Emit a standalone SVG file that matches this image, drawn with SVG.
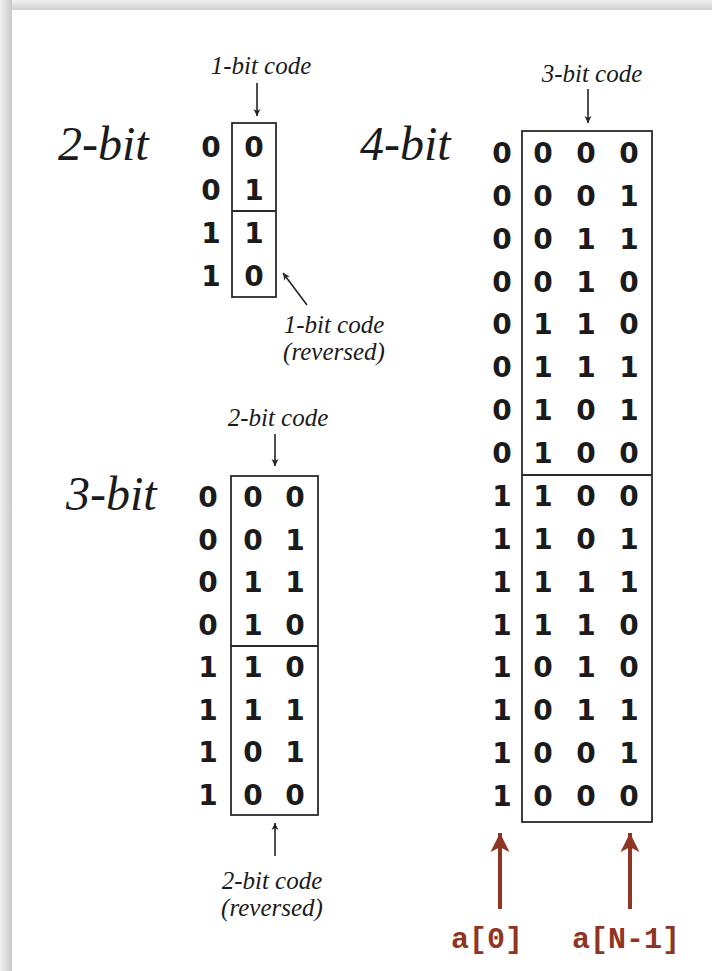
<svg xmlns="http://www.w3.org/2000/svg" width="712" height="971" viewBox="0 0 712 971">
<defs>
<linearGradient id="shL" x1="0" y1="0" x2="1" y2="0"><stop offset="0" stop-color="#f2f2f2"/><stop offset="1" stop-color="#c9c9c9"/></linearGradient>
<linearGradient id="shT" x1="0" y1="0" x2="0" y2="1"><stop offset="0" stop-color="#f2f2f2"/><stop offset="1" stop-color="#d0d0d0"/></linearGradient>
<marker id="ab" viewBox="0 0 10 10" refX="10" refY="5" markerWidth="7" markerHeight="9" markerUnits="userSpaceOnUse" orient="auto"><path d="M0,0 L10,5 L0,10 L3,5 Z" fill="#222"/></marker>
<marker id="ar" viewBox="0 0 10 10" refX="10" refY="5" markerWidth="19" markerHeight="20" markerUnits="userSpaceOnUse" orient="auto"><path d="M0,0 L10,5 L0,10 L2.5,5 Z" fill="#8e3524"/></marker>
<style>
.d{font-family:"DejaVu Sans","Liberation Sans",sans-serif;font-weight:bold;font-size:28px;fill:#1b1b1b;text-anchor:middle}
.t{font-family:"Liberation Serif","DejaVu Serif",serif;font-style:italic;font-size:48px;fill:#1b1b1b}
.l{font-family:"Liberation Serif","DejaVu Serif",serif;font-style:italic;font-size:25px;fill:#1b1b1b;text-anchor:middle}
.bx{fill:none;stroke:#2a2a2a;stroke-width:1.8}
.ln{stroke:#222;stroke-width:1.6;fill:none}
.rl{stroke:#8e3524;stroke-width:4;fill:none}
.rt{font-family:"Liberation Mono","DejaVu Sans Mono",monospace;font-weight:bold;font-size:30px;fill:#8e3524;text-anchor:middle}
</style>
</defs>
<rect x="0" y="0" width="712" height="971" fill="#ececec"/>
<rect x="0" y="0" width="712" height="10" fill="url(#shT)"/>
<rect x="0" y="0" width="12" height="971" fill="url(#shL)"/>
<rect x="12" y="10" width="700" height="961" fill="#ffffff"/>

<g id="code-2bit">
<text class="t" x="58" y="160">2-bit</text>
<rect class="bx" x="232" y="123" width="44" height="174"/>
<line class="bx" x1="232" y1="211" x2="276" y2="211"/>
<g class="d">
<text x="211" y="157">0</text><text x="254" y="157">0</text>
<text x="211" y="200">0</text><text x="254" y="200">1</text>
<text x="211" y="243">1</text><text x="254" y="243">1</text>
<text x="211" y="286">1</text><text x="254" y="286">0</text>
</g>
<text class="l" x="261" y="74">1-bit code</text>
<text class="l" x="334" y="333">1-bit code</text>
<text class="l" x="334" y="360">(reversed)</text>
</g>

<g id="code-3bit">
<text class="t" x="66" y="510">3-bit</text>
<rect class="bx" x="231" y="476" width="87" height="339"/>
<line class="bx" x1="231" y1="646" x2="318" y2="646"/>
<g class="d">
<text x="208" y="507">0</text><text x="253" y="507">0</text><text x="295" y="507">0</text>
<text x="208" y="550">0</text><text x="253" y="550">0</text><text x="295" y="550">1</text>
<text x="208" y="592">0</text><text x="253" y="592">1</text><text x="295" y="592">1</text>
<text x="208" y="635">0</text><text x="253" y="635">1</text><text x="295" y="635">0</text>
<text x="208" y="677">1</text><text x="253" y="677">1</text><text x="295" y="677">0</text>
<text x="208" y="720">1</text><text x="253" y="720">1</text><text x="295" y="720">1</text>
<text x="208" y="762">1</text><text x="253" y="762">0</text><text x="295" y="762">1</text>
<text x="208" y="805">1</text><text x="253" y="805">0</text><text x="295" y="805">0</text>
</g>
<text class="l" x="278" y="426">2-bit code</text>
<text class="l" x="272" y="889">2-bit code</text>
<text class="l" x="272" y="916">(reversed)</text>
</g>

<g id="code-4bit">
<text class="t" x="360" y="160">4-bit</text>
<rect class="bx" x="522" y="131" width="130" height="691"/>
<line class="bx" x1="522" y1="475" x2="652" y2="475"/>
<g class="d">
<text x="502" y="163">0</text><text x="543" y="163">0</text><text x="586" y="163">0</text><text x="629" y="163">0</text>
<text x="502" y="206">0</text><text x="543" y="206">0</text><text x="586" y="206">0</text><text x="629" y="206">1</text>
<text x="502" y="249">0</text><text x="543" y="249">0</text><text x="586" y="249">1</text><text x="629" y="249">1</text>
<text x="502" y="292">0</text><text x="543" y="292">0</text><text x="586" y="292">1</text><text x="629" y="292">0</text>
<text x="502" y="334">0</text><text x="543" y="334">1</text><text x="586" y="334">1</text><text x="629" y="334">0</text>
<text x="502" y="377">0</text><text x="543" y="377">1</text><text x="586" y="377">1</text><text x="629" y="377">1</text>
<text x="502" y="420">0</text><text x="543" y="420">1</text><text x="586" y="420">0</text><text x="629" y="420">1</text>
<text x="502" y="463">0</text><text x="543" y="463">1</text><text x="586" y="463">0</text><text x="629" y="463">0</text>
<text x="502" y="506">1</text><text x="543" y="506">1</text><text x="586" y="506">0</text><text x="629" y="506">0</text>
<text x="502" y="549">1</text><text x="543" y="549">1</text><text x="586" y="549">0</text><text x="629" y="549">1</text>
<text x="502" y="592">1</text><text x="543" y="592">1</text><text x="586" y="592">1</text><text x="629" y="592">1</text>
<text x="502" y="635">1</text><text x="543" y="635">1</text><text x="586" y="635">1</text><text x="629" y="635">0</text>
<text x="502" y="677">1</text><text x="543" y="677">0</text><text x="586" y="677">1</text><text x="629" y="677">0</text>
<text x="502" y="720">1</text><text x="543" y="720">0</text><text x="586" y="720">1</text><text x="629" y="720">1</text>
<text x="502" y="763">1</text><text x="543" y="763">0</text><text x="586" y="763">0</text><text x="629" y="763">1</text>
<text x="502" y="806">1</text><text x="543" y="806">0</text><text x="586" y="806">0</text><text x="629" y="806">0</text>
</g>
<text class="l" x="592" y="82">3-bit code</text>
</g>

<g id="index-labels">
<text class="rt" x="487" y="948">a[0]</text>
<text class="rt" x="626" y="948">a[N-1]</text>
</g>

<g id="connectors">
<line class="ln" x1="257" y1="83" x2="257" y2="116" marker-end="url(#ab)"/>
<line class="ln" x1="307" y1="305" x2="283" y2="273" marker-end="url(#ab)"/>
<line class="ln" x1="275" y1="434" x2="275" y2="466" marker-end="url(#ab)"/>
<line class="ln" x1="275" y1="856" x2="275" y2="823" marker-end="url(#ab)"/>
<line class="ln" x1="588" y1="89" x2="588" y2="123" marker-end="url(#ab)"/>
<line class="rl" x1="500" y1="909" x2="500" y2="833" marker-end="url(#ar)"/>
<line class="rl" x1="630" y1="909" x2="630" y2="833" marker-end="url(#ar)"/>
</g>
</svg>
